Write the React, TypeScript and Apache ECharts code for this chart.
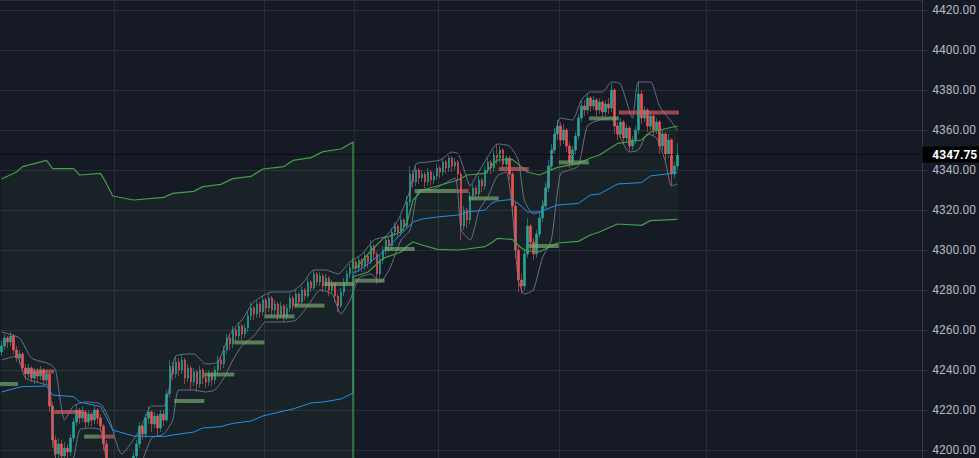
import React, { useEffect, useRef } from 'react';
import * as echarts from 'echarts';

// ---------- data ----------
const TOTAL_SLOTS = 307; // candles + empty right margin
const lastPrice = 4347.75;

// [open, close, low, high]
const candles: number[][] = [
  [4249, 4252, 4247, 4255], [4252, 4256, 4250, 4258], [4256, 4254, 4251, 4257], [4254, 4257, 4252, 4259],
  [4257, 4250, 4248, 4258], [4250, 4246, 4244, 4252], [4246, 4248, 4243, 4250], [4248, 4241, 4239, 4249],
  [4241, 4238, 4235, 4243], [4238, 4241, 4236, 4243], [4241, 4236, 4234, 4242], [4236, 4239, 4233, 4241],
  [4239, 4237, 4234, 4241], [4237, 4240, 4235, 4242], [4240, 4235, 4232, 4241], [4235, 4238, 4233, 4240],
  [4238, 4222, 4219, 4239], [4222, 4205, 4201, 4224], [4205, 4198, 4194, 4207], [4198, 4203, 4195, 4206],
  [4203, 4197, 4193, 4205], [4197, 4201, 4195, 4204], [4201, 4199, 4196, 4203], [4199, 4206, 4197, 4208],
  [4206, 4214, 4204, 4216], [4214, 4220, 4212, 4223], [4220, 4216, 4213, 4221], [4216, 4219, 4214, 4222],
  [4219, 4214, 4211, 4220], [4214, 4218, 4212, 4220], [4218, 4215, 4212, 4219], [4215, 4220, 4213, 4222],
  [4220, 4216, 4213, 4221], [4216, 4212, 4209, 4218], [4212, 4203, 4200, 4213], [4203, 4194, 4191, 4205],
  [4194, 4190, 4187, 4196], [4190, 4186, 4183, 4192], [4186, 4189, 4184, 4191], [4189, 4184, 4181, 4190],
  [4184, 4188, 4182, 4190], [4188, 4185, 4183, 4190], [4185, 4190, 4184, 4192], [4190, 4194, 4188, 4196],
  [4194, 4197, 4192, 4199], [4197, 4203, 4195, 4205], [4203, 4212, 4201, 4214], [4212, 4208, 4205, 4213],
  [4208, 4216, 4206, 4218], [4216, 4219, 4213, 4222], [4219, 4213, 4209, 4220], [4213, 4217, 4211, 4219],
  [4217, 4211, 4207, 4218], [4211, 4218, 4209, 4220], [4218, 4215, 4212, 4220], [4215, 4228, 4214, 4230],
  [4228, 4242, 4226, 4245], [4242, 4238, 4235, 4244], [4238, 4244, 4236, 4247], [4244, 4240, 4237, 4246],
  [4240, 4245, 4238, 4248], [4245, 4236, 4233, 4246], [4236, 4241, 4234, 4243], [4241, 4234, 4230, 4242],
  [4234, 4239, 4232, 4241], [4239, 4233, 4229, 4240], [4233, 4240, 4231, 4242], [4240, 4236, 4233, 4241],
  [4236, 4234, 4231, 4238], [4234, 4238, 4232, 4240], [4238, 4235, 4232, 4239], [4235, 4240, 4233, 4242],
  [4240, 4245, 4238, 4247], [4245, 4243, 4240, 4247], [4243, 4250, 4241, 4252], [4250, 4256, 4248, 4258],
  [4256, 4253, 4250, 4257], [4253, 4260, 4251, 4262], [4260, 4257, 4254, 4261], [4257, 4262, 4255, 4264],
  [4262, 4258, 4255, 4263], [4258, 4261, 4256, 4263], [4261, 4267, 4259, 4269], [4267, 4271, 4265, 4274],
  [4271, 4268, 4265, 4272], [4268, 4273, 4266, 4275], [4273, 4269, 4266, 4274], [4269, 4275, 4267, 4277],
  [4275, 4271, 4268, 4276], [4271, 4276, 4269, 4278], [4276, 4270, 4267, 4277], [4270, 4273, 4268, 4275],
  [4273, 4268, 4265, 4274], [4268, 4272, 4266, 4274], [4272, 4267, 4264, 4273], [4267, 4271, 4265, 4273],
  [4271, 4276, 4269, 4278], [4276, 4272, 4270, 4277], [4272, 4278, 4271, 4280], [4278, 4274, 4272, 4279],
  [4274, 4280, 4273, 4282], [4280, 4277, 4275, 4281], [4277, 4284, 4276, 4286], [4284, 4281, 4279, 4285],
  [4281, 4288, 4280, 4290], [4288, 4284, 4282, 4289], [4284, 4287, 4282, 4289], [4287, 4282, 4279, 4288],
  [4282, 4286, 4280, 4288], [4286, 4280, 4277, 4287], [4280, 4283, 4278, 4285], [4283, 4277, 4274, 4284],
  [4277, 4272, 4269, 4278], [4272, 4279, 4271, 4281], [4279, 4284, 4277, 4286], [4284, 4288, 4282, 4290],
  [4288, 4291, 4286, 4293], [4291, 4294, 4289, 4296], [4294, 4291, 4288, 4295], [4291, 4295, 4289, 4297],
  [4295, 4292, 4289, 4296], [4292, 4297, 4290, 4299], [4297, 4294, 4291, 4298], [4294, 4302, 4293, 4305],
  [4302, 4298, 4295, 4303], [4298, 4288, 4283, 4299], [4288, 4295, 4286, 4297], [4295, 4300, 4293, 4302],
  [4300, 4305, 4298, 4307], [4305, 4302, 4299, 4306], [4302, 4309, 4300, 4311], [4309, 4312, 4307, 4314],
  [4312, 4309, 4306, 4313], [4309, 4315, 4307, 4317], [4315, 4312, 4309, 4316], [4312, 4324, 4311, 4327],
  [4324, 4338, 4322, 4342], [4338, 4334, 4331, 4340], [4334, 4340, 4332, 4342], [4340, 4336, 4333, 4341],
  [4336, 4338, 4334, 4340], [4338, 4334, 4331, 4339], [4334, 4339, 4332, 4341], [4339, 4335, 4332, 4340],
  [4335, 4337, 4333, 4339], [4337, 4341, 4335, 4343], [4341, 4339, 4336, 4342], [4339, 4344, 4337, 4346],
  [4344, 4341, 4338, 4345], [4341, 4346, 4339, 4348], [4346, 4342, 4339, 4347], [4342, 4344, 4340, 4346],
  [4344, 4338, 4335, 4345], [4338, 4312, 4305, 4339], [4312, 4320, 4310, 4322], [4320, 4315, 4311, 4321],
  [4315, 4327, 4313, 4329], [4327, 4331, 4325, 4333], [4331, 4328, 4325, 4332], [4328, 4335, 4326, 4337],
  [4335, 4332, 4329, 4336], [4332, 4340, 4330, 4342], [4340, 4344, 4338, 4346], [4344, 4341, 4338, 4345],
  [4341, 4348, 4339, 4350], [4348, 4346, 4343, 4353], [4346, 4350, 4344, 4352], [4350, 4343, 4340, 4351],
  [4343, 4346, 4341, 4348], [4346, 4338, 4335, 4347], [4338, 4322, 4318, 4339], [4322, 4300, 4296, 4324],
  [4300, 4285, 4279, 4302], [4285, 4282, 4278, 4288], [4282, 4298, 4280, 4300], [4298, 4312, 4296, 4316],
  [4312, 4304, 4300, 4313], [4304, 4298, 4295, 4306], [4298, 4308, 4296, 4310], [4308, 4316, 4306, 4319],
  [4316, 4322, 4314, 4325], [4322, 4331, 4320, 4334], [4331, 4342, 4329, 4345], [4342, 4350, 4340, 4353],
  [4350, 4358, 4348, 4361], [4358, 4362, 4355, 4365], [4362, 4355, 4352, 4364], [4355, 4360, 4353, 4363],
  [4360, 4352, 4349, 4361], [4352, 4344, 4341, 4354], [4344, 4350, 4342, 4352], [4350, 4357, 4348, 4359],
  [4357, 4366, 4355, 4368], [4366, 4372, 4364, 4375], [4372, 4370, 4367, 4375], [4370, 4376, 4368, 4378.5],
  [4376, 4372, 4369, 4377], [4372, 4375, 4370, 4377], [4375, 4370, 4367, 4376], [4370, 4374, 4368, 4376],
  [4374, 4369, 4366, 4375], [4369, 4373, 4367, 4375], [4373, 4371, 4368, 4376], [4371, 4380, 4369, 4383.5],
  [4380, 4362, 4358, 4381], [4362, 4358, 4355, 4364], [4358, 4364, 4356, 4366], [4364, 4356, 4353, 4365],
  [4356, 4361, 4354, 4363], [4361, 4352, 4349, 4362], [4352, 4355, 4350, 4357], [4355, 4360, 4353, 4362],
  [4360, 4378, 4358, 4384], [4378, 4366, 4363, 4380], [4366, 4370, 4364, 4372], [4370, 4362, 4359, 4371],
  [4362, 4367, 4360, 4369], [4367, 4360, 4357, 4368], [4360, 4364, 4358, 4366], [4364, 4352, 4348, 4365],
  [4352, 4358, 4350, 4360], [4358, 4348, 4345, 4359], [4348, 4355, 4346, 4358], [4355, 4338, 4332, 4356],
  [4338, 4342, 4336, 4344], [4342, 4347.75, 4340, 4353.5],
];

// session A (left) VWAP bands
const sessionAIdx = [0, 5, 7, 15, 17, 24, 26, 33, 35, 37, 44, 54, 57, 64, 67, 73, 77, 83, 87, 94, 97, 103, 107, 113, 117];
const upperA = [4335.5, 4339, 4341.7, 4344.8, 4340.7, 4340.7, 4337.5, 4338.3, 4333, 4327, 4325, 4326.3, 4328.3, 4329.3, 4331.7, 4332.8, 4335.7, 4336.8, 4340.5, 4341.7, 4344.8, 4346.2, 4349.2, 4350.5, 4354];
const vwapA = [4229, 4231, 4231.7, 4232, 4227.5, 4226.7, 4224, 4221.7, 4216, 4210, 4207, 4206.7, 4207.5, 4209, 4211, 4211.7, 4213.3, 4214.5, 4217, 4219.5, 4220.5, 4223.5, 4224, 4225.5, 4228.5];
const lowerA = [4122, 4123, 4122, 4119, 4114, 4113, 4110, 4105, 4099, 4093, 4089, 4087, 4087, 4089, 4090, 4091, 4091, 4092, 4093, 4097, 4096, 4101, 4099, 4100, 4103];

// session B (right) VWAP bands
const sessionBIdx = [118, 122, 127, 133, 135, 137, 140, 145, 152, 155, 161, 163, 165, 170, 173, 175, 179, 185, 192, 196, 199, 205, 213, 216, 225];
const upperB = [4291, 4298, 4305.8, 4309, 4314, 4325, 4330, 4332, 4335, 4337.5, 4338.3, 4342, 4345, 4345.3, 4341.7, 4339, 4337.5, 4341.3, 4343.3, 4346, 4347.5, 4353.3, 4355, 4359, 4362];
const vwapB = [4289, 4293, 4299, 4308, 4311, 4314, 4315.5, 4316.5, 4317.5, 4319, 4320, 4323.3, 4324.5, 4325.3, 4322, 4319, 4319, 4322.5, 4323.3, 4327.5, 4328, 4333, 4333.7, 4337, 4338.7];
const lowerB = [4287, 4289, 4295.8, 4299, 4302, 4304, 4302.5, 4300.3, 4300, 4300.5, 4301.7, 4303.5, 4305.8, 4305.3, 4301, 4299.5, 4299, 4303.5, 4304.3, 4307.5, 4309, 4313, 4312.3, 4314.7, 4315.3];

// envelope lines around price [index, value]
const grayUpper: number[][] = [
  [0, 4259], [6, 4256], [10, 4246], [16, 4243], [18, 4240], [21, 4215], [24, 4222], [28, 4224], [33, 4223], [36, 4215],
  [40, 4198], [46, 4210], [50, 4222], [54, 4222], [56, 4232], [58, 4247], [64, 4248], [68, 4243], [72, 4244], [76, 4258],
  [80, 4265], [84, 4274], [90, 4279], [96, 4279], [100, 4283], [104, 4290], [108, 4290], [112, 4288], [116, 4294], [120, 4298],
  [124, 4305], [128, 4307], [132, 4315], [136, 4330], [138, 4343], [142, 4344], [146, 4345], [150, 4349], [152, 4348], [154, 4340],
  [156, 4332], [158, 4337], [162, 4347], [165, 4353], [169, 4352], [172, 4345], [174, 4325], [177, 4318], [180, 4320], [183, 4345],
  [186, 4366], [190, 4365], [193, 4375], [196, 4379], [200, 4379], [203, 4384], [206, 4383], [210, 4366], [212, 4384], [216, 4384],
  [219, 4372], [222, 4366], [225, 4360],
];
const grayLower: number[][] = [
  [0, 4245], [5, 4247], [8, 4236], [14, 4233], [16, 4232], [18, 4196], [22, 4193], [24, 4196], [26, 4210], [30, 4211],
  [33, 4210], [35, 4195], [40, 4181], [44, 4185], [47, 4195], [50, 4206], [54, 4208], [57, 4215], [59, 4230], [64, 4230],
  [68, 4229], [71, 4230], [74, 4236], [77, 4245], [80, 4252], [84, 4257], [88, 4264], [94, 4264], [98, 4265], [102, 4272],
  [106, 4280], [110, 4278], [113, 4268], [116, 4275], [119, 4286], [123, 4288], [126, 4284], [129, 4290], [133, 4305], [136, 4310],
  [139, 4330], [143, 4330], [147, 4333], [151, 4336], [153, 4310], [156, 4305], [159, 4320], [162, 4327], [165, 4337], [168, 4339],
  [170, 4320], [172, 4285], [174, 4278], [177, 4280], [180, 4296], [183, 4305], [186, 4338], [189, 4340], [192, 4342], [195, 4362],
  [199, 4365], [203, 4366], [206, 4356], [209, 4349], [212, 4350], [215, 4358], [218, 4356], [221, 4344], [223, 4332], [225, 4333],
];

// horizontal levels: [firstIdx, lastIdx, price, 0 = green / 1 = red]
const levels: number[][] = [
  [0, 5, 4233, 0], [8, 17, 4239.3, 1], [18, 27, 4219, 1], [28, 32, 4206.7, 0], [33, 37, 4206.7, 1],
  [58, 67, 4224.5, 0], [68, 77, 4237.8, 0], [78, 87, 4253.8, 0], [88, 97, 4266.8, 0], [98, 107, 4272.2, 0],
  [108, 117, 4283, 0], [118, 127, 4284.7, 0], [128, 137, 4300.5, 0], [138, 151, 4329.5, 0], [152, 155, 4329.5, 1],
  [156, 165, 4325.8, 0], [166, 175, 4340.5, 1], [176, 185, 4302, 0], [186, 195, 4343.8, 0], [196, 205, 4365.8, 0],
  [206, 225, 4368.8, 1],
];

const timeGridIdx = [38, 88, 118, 146, 186, 235, 285];

// ---------- chart ----------
// both sessions in one line; the reset is drawn as a vertical step at the session's last bar
const sessionLine = (valsA: number[], valsB: number[]) => [
  ...sessionAIdx.map((x, k) => [x, valsA[k]]),
  [sessionAIdx[sessionAIdx.length - 1], valsB[0]],
  ...sessionBIdx.map((x, k) => [x, valsB[k]]),
];

export default function App() {
  const ref = useRef<HTMLDivElement>(null);
  useEffect(() => {
    document.body.style.margin = '0';
    if (!ref.current) return;
    const chart = echarts.init(ref.current, undefined, { renderer: 'svg' });
    const categories = Array.from({ length: TOTAL_SLOTS }, (_, i) => String(i));
    const font = 'Roboto, "Noto Sans", sans-serif';
    const bandFill = 'rgba(76,175,80,0.06)';

    const polygonFor = (api: any, idx: number[], up: number[], lo: number[]) => {
      const pts: number[][] = [];
      for (let k = 0; k < idx.length; k++) pts.push(api.coord([idx[k], up[k]]));
      for (let k = idx.length - 1; k >= 0; k--) pts.push(api.coord([idx[k], lo[k]]));
      return { type: 'polygon', shape: { points: pts }, style: { fill: bandFill } };
    };

    chart.setOption({
      animation: false,
      backgroundColor: '#161a25',
      grid: { left: 0, right: 56, top: 0, bottom: 0, containLabel: false },
      xAxis: {
        type: 'category',
        data: categories,
        boundaryGap: true,
        axisLine: { show: false },
        axisTick: { show: false },
        axisLabel: { show: false },
        splitLine: {
          show: true,
          interval: (index: number) => timeGridIdx.indexOf(index) >= 0,
          lineStyle: { color: '#2a2e39', width: 1 },
        },
      },
      yAxis: {
        type: 'value',
        position: 'right',
        min: 4196,
        max: 4425,
        splitNumber: 11,
        scale: true,
        axisLine: { show: true, lineStyle: { color: '#363a45' } },
        axisTick: { show: true, length: 5, lineStyle: { color: '#363a45' } },
        axisLabel: {
          color: '#b2b5be',
          fontSize: 12,
          fontFamily: font,
          margin: 10,
          showMinLabel: false,
          showMaxLabel: false,
          formatter: (v: number) => (Math.abs(v % 20) < 1e-6 ? v.toFixed(2) : ''),
        },
        splitLine: { show: true, lineStyle: { color: '#2a2e39', width: 1 } },
      },
      series: [
        {
          type: 'custom',
          name: 'bandFill',
          silent: true,
          clip: true,
          z: 1,
          data: [[0, 4300]],
          renderItem: (_p: any, api: any) => ({
            type: 'group',
            children: [
              polygonFor(api, sessionAIdx, upperA, lowerA),
              polygonFor(api, sessionBIdx, upperB, lowerB),
            ],
          }),
        },
        {
          type: 'candlestick',
          name: 'price',
          z: 3,
          barWidth: 2,
          data: candles,
          itemStyle: {
            color: '#26a69a',
            color0: '#ef5350',
            borderColor: '#26a69a',
            borderColor0: '#ef5350',
            borderWidth: 0.6,
          },
          markLine: {
            silent: true,
            symbol: ['none', 'none'],
            data: [{ yAxis: lastPrice }],
            lineStyle: { color: '#000000', type: 'dotted', width: 1 },
            label: {
              show: true,
              position: 'end',
              distance: 0,
              formatter: lastPrice.toFixed(2),
              color: '#ffffff',
              fontWeight: 'bold',
              fontSize: 12,
              fontFamily: font,
              backgroundColor: '#000000',
              padding: [2, 6, 2, 10],
              lineHeight: 12,
            },
          },
        },
        {
          type: 'line',
          name: 'envUpper',
          z: 4,
          data: grayUpper,
          symbol: 'none',
          smooth: 0.2,
          lineStyle: { color: '#71809a', width: 1, opacity: 0.85 },
        },
        {
          type: 'line',
          name: 'envLower',
          z: 4,
          data: grayLower,
          symbol: 'none',
          smooth: 0.2,
          lineStyle: { color: '#71809a', width: 1, opacity: 0.85 },
        },
        {
          type: 'line',
          name: 'vwap',
          z: 5,
          data: sessionLine(vwapA, vwapB),
          symbol: 'none',
          lineStyle: { color: '#2490ea', width: 1 },
        },
        {
          type: 'line',
          name: 'lowerBand',
          z: 6,
          data: sessionLine(lowerA, lowerB),
          symbol: 'none',
          lineStyle: { color: '#43a047', width: 1.2 },
        },
        {
          type: 'line',
          name: 'upperBand',
          z: 6,
          data: sessionLine(upperA, upperB),
          symbol: 'none',
          lineStyle: { color: '#43a047', width: 1.2 },
        },
        {
          type: 'custom',
          name: 'levels',
          silent: true,
          z: 7,
          encode: { x: [0, 1], y: 2 },
          data: levels,
          renderItem: (_p: any, api: any) => {
            const s = api.value(0);
            const e = api.value(1);
            const p = api.value(2);
            const kind = api.value(3);
            const a = api.coord([s, p]);
            const b = api.coord([e, p]);
            const bw = api.size([1, 0])[0];
            return {
              type: 'rect',
              shape: { x: a[0] - bw / 2, y: a[1] - 2, width: b[0] - a[0] + bw, height: 4 },
              style: { fill: kind ? 'rgba(206,96,102,0.68)' : 'rgba(118,170,114,0.68)' },
            };
          },
        },
      ],
    });
    return () => chart.dispose();
  }, []);
  return <div ref={ref} style={{ width: 979, height: 458, background: '#161a25' }} />;
}
